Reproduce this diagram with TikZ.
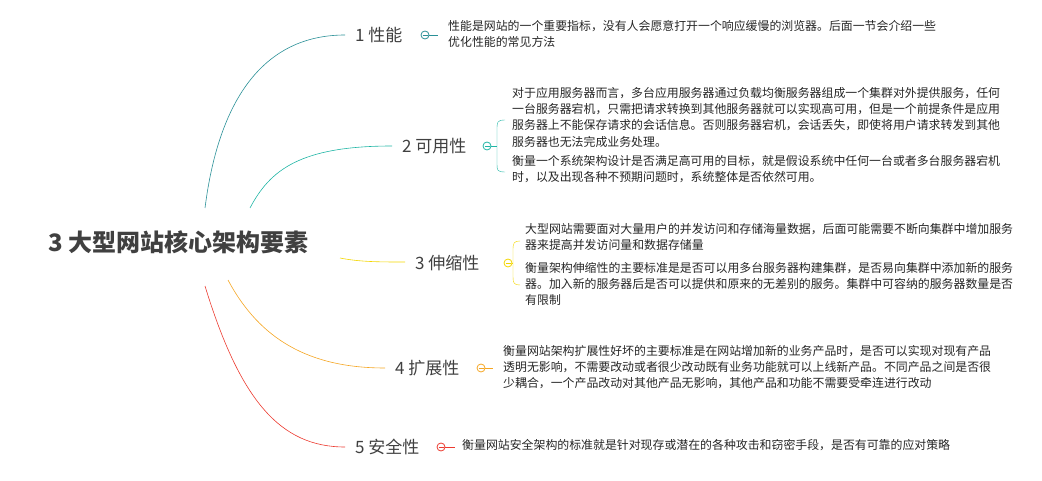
\documentclass[tikz,border=0pt]{standalone}
\usepackage{fontspec}
\setmainfont{Noto Sans CJK SC}
\begin{document}
\begin{tikzpicture}[x=1pt,y=-1pt,
  br/.style={font=\fontsize{17}{20}\selectfont, text=black!75, anchor=west, inner sep=0},
  dt/.style={font=\fontsize{11.9}{16.3}\selectfont, text=black!85, anchor=north west, inner sep=0, align=left},
  cir/.style={circle, draw=#1, thick, minimum size=8pt, inner sep=0, fill=white, path picture={\draw[#1, thin] (path picture bounding box.west) ++(1.5pt,0) -- ++(5pt,0);}},
  ln/.style={draw=#1, line width=0.6pt}]
\useasboundingbox (0,0) rectangle (1042,481);
\definecolor{c1}{HTML}{2A9097}
\definecolor{c2}{HTML}{1FB5A5}
\definecolor{c3}{HTML}{F3D600}
\definecolor{c4}{HTML}{F5A623}
\definecolor{c5}{HTML}{EC3A2F}
\node[font=\fontsize{24}{28}\bfseries\selectfont, text=black!75, anchor=west, inner sep=0] (root) at (48,242) {3 大型网站核心架构要素};
\coordinate (s1) at (205,208);
\coordinate (s2) at (250,208);
\coordinate (s3) at (340,258);
\coordinate (s4) at (228,280);
\coordinate (s5) at (205,286);
% branch 1
\node[br] (b1) at (355,35) {1 性能};
\draw[ln=c1] (s1) .. controls (220,90) and (270,35) .. (345,35);
\node[cir=c1] (k1) at (425,35) {};
\draw[ln=c1] (k1) ++(4,0) -- (438,35);
\node[dt, text width=520pt] (t1) at (448,20) {性能是网站的一个重要指标，没有人会愿意打开一个响应缓慢的浏览器。后面一节会介绍一些\\优化性能的常见方法};
% branch 2
\node[br] (b2) at (402,146) {2 可用性};
\draw[ln=c2] (s2) .. controls (270,170) and (300,146) .. (392,146);
\node[cir=c2] (k2) at (487,146) {};
\draw[ln=c2] (k2) ++(4,0) -- (497,146);
\draw[ln=c2, thin] (505,120) .. controls (497,120) and (497,122) .. (497,130) -- (497,164) .. controls (497,170) and (497,172) .. (505,172);
\node[dt] (t2a) at (512,87) {对于应用服务器而言，多台应用服务器通过负载均衡服务器组成一个集群对外提供服务，任何\\一台服务器宕机，只需把请求转换到其他服务器就可以实现高可用，但是一个前提条件是应用\\服务器上不能保存请求的会话信息。否则服务器宕机，会话丢失，即使将用户请求转发到其他\\服务器也无法完成业务处理。};
\node[dt] (t2b) at (512,155) {衡量一个系统架构设计是否满足高可用的目标，就是假设系统中任何一台或者多台服务器宕机\\时，以及出现各种不预期问题时，系统整体是否依然可用。};
% branch 3
\node[br] (b3) at (415,263) {3 伸缩性};
\draw[ln=c3] (s3) .. controls (360,262) and (380,262) .. (405,262);
\node[cir=c3] (k3) at (508,263) {};
\draw[ln=c3] (k3) ++(4,0) -- (513,263);
\draw[ln=c3, thin] (520,241) .. controls (514,241) and (513,243) .. (513,250) -- (513,277) .. controls (513,283) and (514,285) .. (520,285);
\node[dt] (t3a) at (525,223) {大型网站需要面对大量用户的并发访问和存储海量数据，后面可能需要不断向集群中增加服务\\器来提高并发访问量和数据存储量};
\node[dt] (t3b) at (525,262) {衡量架构伸缩性的主要标准是是否可以用多台服务器构建集群，是否易向集群中添加新的服务\\器。加入新的服务器后是否可以提供和原来的无差别的服务。集群中可容纳的服务器数量是否\\有限制};
% branch 4
\node[br] (b4) at (395,368) {4 扩展性};
\draw[ln=c4] (s4) .. controls (260,340) and (310,368) .. (385,368);
\node[cir=c4] (k4) at (481,368) {};
\draw[ln=c4] (k4) ++(4,0) -- (493,368);
\node[dt] (t4) at (503,345) {衡量网站架构扩展性好坏的主要标准是在网站增加新的业务产品时，是否可以实现对现有产品\\透明无影响，不需要改动或者很少改动既有业务功能就可以上线新产品。不同产品之间是否很\\少耦合，一个产品改动对其他产品无影响，其他产品和功能不需要受牵连进行改动};
% branch 5
\node[br] (b5) at (355,447) {5 安全性};
\draw[ln=c5] (s5) .. controls (240,400) and (280,447) .. (345,447);
\node[cir=c5] (k5) at (441,447) {};
\draw[ln=c5] (k5) ++(4,0) -- (455,447);
\node[dt] (t5) at (462,439) {衡量网站安全架构的标准就是针对现存或潜在的各种攻击和窃密手段，是否有可靠的应对策略};
\end{tikzpicture}
\end{document}
